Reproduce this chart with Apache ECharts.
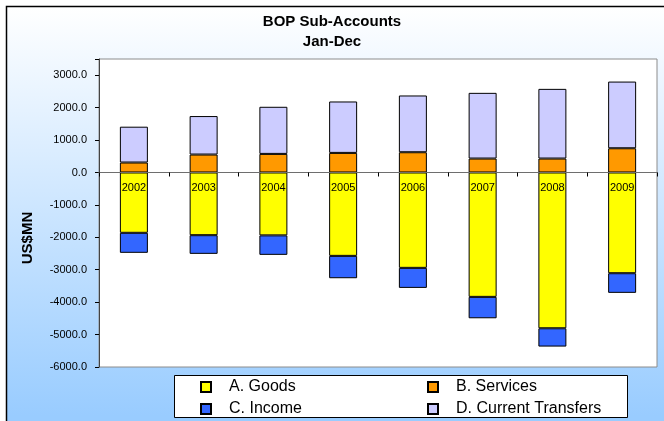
<!DOCTYPE html>
<html>
<head>
<meta charset="utf-8">
<script src="https://cdn.jsdelivr.net/npm/echarts@6/dist/echarts.min.js"></script>
<style>
  html, body { margin: 0; padding: 0; background: #fff; }
  #chart { width: 664px; height: 421px; }
</style>
</head>
<body>
<div id="chart"></div>
<script>
// 年份
var years = ['2002', '2003', '2004', '2005', '2006', '2007', '2008', '2009']
// 各子账户 (US$MN)
var goods = [-1861, -1934, -1940, -2572, -2942, -3837, -4805, -3107]
var services = [307, 553, 573, 604, 624, 430, 430, 747]
var income = [-617, -576, -601, -690, -618, -660, -565, -606]
var transfers = [1105, 1187, 1453, 1586, 1751, 2026, 2149, 2057]
var names = ['A. Goods', 'B. Services', 'C. Income', 'D. Current Transfers']

var font = "'Liberation Sans', Arial, sans-serif"
var myChart = echarts.init(document.getElementById('chart'))

function bar(name, data, color) {
  return {
    name: name,
    type: 'bar',
    stack: 'bop',
    data: data,
    barWidth: 28,
    itemStyle: { color: color, borderColor: '#000', borderWidth: 1 }
  }
}

function legendAt(name, left, top) {
  return {
    data: [name],
    left: left,
    top: top,
    padding: 0,
    icon: 'rect',
    itemWidth: 10,
    itemHeight: 10,
    selectedMode: false,
    z: 20,
    textStyle: { fontFamily: font, fontSize: 16, color: '#000', padding: [0, 0, 0, 13] }
  }
}

myChart.setOption({
  animation: false,
  backgroundColor: '#fff',
  title: {
    text: 'BOP Sub-Accounts\nJan-Dec',
    left: 'center',
    top: 12,
    padding: 0,
    textStyle: { fontFamily: font, fontSize: 15, fontWeight: 'bold', lineHeight: 20, color: '#000' }
  },
  graphic: [
    {
      type: 'rect', z: -100, silent: true,
      shape: { x: 6.5, y: 6.5, width: 670, height: 430 },
      style: {
        fill: new echarts.graphic.LinearGradient(0, 0, 0, 1, [
          { offset: 0, color: '#ffffff' },
          { offset: 0.95, color: '#99ccff' },
          { offset: 1, color: '#99ccff' }
        ]),
        stroke: '#000', lineWidth: 1.5
      }
    },
    {
      type: 'rect', z: 10, silent: true,
      shape: { x: 174.5, y: 375.5, width: 453, height: 42 },
      style: { fill: '#fff', stroke: '#000', lineWidth: 1 }
    },
    {
      type: 'text', z: 10, silent: true,
      x: 28, y: 238, rotation: Math.PI / 2,
      style: {
        text: 'US$MN', fontFamily: font, fontSize: 15, fontWeight: 'bold',
        fill: '#000', align: 'center', verticalAlign: 'middle'
      }
    }
  ],
  legend: [
    legendAt(names[0], 200, 379),
    legendAt(names[1], 427, 379),
    legendAt(names[2], 200, 401),
    legendAt(names[3], 427, 401)
  ],
  grid: {
    left: 99, right: 7, top: 59, bottom: 54,
    show: true, backgroundColor: '#fff', borderColor: '#8c8c8c', borderWidth: 1
  },
  xAxis: {
    type: 'category',
    data: years,
    z: 10,
    position: 'bottom',
    offset: -194.5,
    axisLine: { onZero: false, lineStyle: { color: '#6e6e6e', width: 1 } },
    axisTick: { show: true, inside: false, length: 4, lineStyle: { color: '#000', width: 1 } },
    axisLabel: { fontFamily: font, fontSize: 11, color: '#000', margin: 10 }
  },
  yAxis: {
    type: 'value',
    min: -6000,
    max: 3500,
    interval: 1000,
    axisLine: { show: true, onZero: false, lineStyle: { color: '#444', width: 1 } },
    axisTick: { show: true, length: 4, lineStyle: { color: '#000' } },
    splitLine: { show: false },
    axisLabel: {
      fontFamily: font, fontSize: 11, color: '#000', margin: 12,
      formatter: function (v) { return v > 3000 ? '' : v.toFixed(1) }
    }
  },
  series: [
    bar(names[0], goods, '#ffff00'),
    bar(names[1], services, '#ff9900'),
    bar(names[2], income, '#3366ff'),
    bar(names[3], transfers, '#ccccff')
  ]
})
</script>
</body>
</html>
